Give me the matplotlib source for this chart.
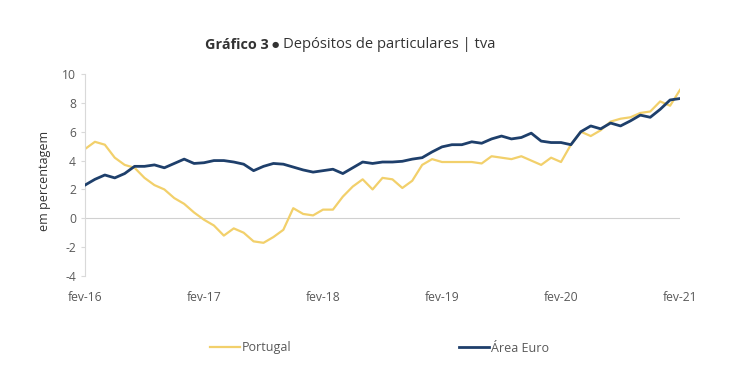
import matplotlib
matplotlib.use("Agg")
import matplotlib.pyplot as plt
from matplotlib.lines import Line2D

plt.rcParams['font.family'] = ['Open Sans', 'DejaVu Sans']
plt.rcParams['axes.unicode_minus'] = False

months = list(range(61))
tick_pos = [0, 12, 24, 36, 48, 60]
tick_labels = ["fev-16", "fev-17", "fev-18", "fev-19", "fev-20", "fev-21"]

portugal = [4.8, 5.3, 5.1, 4.2, 3.7, 3.5, 2.8, 2.3, 2.0, 1.4,
            1.0, 0.4, -0.1, -0.5, -1.2, -0.7, -1.0, -1.6, -1.7, -1.3,
            -0.8, 0.7, 0.3, 0.2, 0.6, 0.6, 1.5, 2.2, 2.7, 2.0,
            2.8, 2.7, 2.1, 2.6, 3.7, 4.1, 3.9, 3.9, 3.9, 3.9,
            3.8, 4.3, 4.2, 4.1, 4.3, 4.0, 3.7, 4.2, 3.9, 5.1,
            6.0, 5.7, 6.1, 6.7, 6.9, 7.0, 7.3, 7.4, 8.1, 7.8,
            8.9]
area_euro = [2.3, 2.7, 3.0, 2.8, 3.1, 3.6, 3.6, 3.7, 3.5, 3.8,
             4.1, 3.8, 3.85, 4.0, 4.0, 3.9, 3.75, 3.3, 3.6, 3.8,
             3.75, 3.55, 3.35, 3.2, 3.3, 3.4, 3.1, 3.5, 3.9, 3.8,
             3.9, 3.9, 3.95, 4.1, 4.2, 4.6, 4.95, 5.1, 5.1, 5.3,
             5.2, 5.5, 5.7, 5.5, 5.6, 5.9, 5.35, 5.25, 5.25, 5.1,
             6.0, 6.4, 6.2, 6.6, 6.4, 6.75, 7.15, 7.0, 7.55, 8.2,
             8.3]

c_pt = "#F2D06B"
c_eu = "#1E3F6B"
grey = "#595959"

fig = plt.figure(figsize=(7.4, 3.89), dpi=100)
ax = fig.add_axes([85/740, 1-276/389, (680-85)/740, (276-74)/389])

ax.axhline(0, color="#d0d0d0", lw=0.8, zorder=1)
ax.plot(months, portugal, color=c_pt, lw=1.6, zorder=2, label="Portugal")
ax.plot(months, area_euro, color=c_eu, lw=2.0, zorder=3, label="Área Euro")

ax.set_xlim(0, 60)
ax.set_ylim(-4, 10)
ax.set_yticks(range(-4, 11, 2))
ax.set_xticks(tick_pos)
ax.set_xticklabels(tick_labels)
for s in ["top", "right", "bottom"]:
    ax.spines[s].set_visible(False)
ax.spines["left"].set_color("#d9d9d9")
ax.spines["left"].set_linewidth(0.8)
ax.tick_params(axis="y", colors="#d9d9d9", labelcolor=grey, labelsize=8.7, length=3, width=0.8)
ax.tick_params(axis="x", length=0, labelcolor=grey, labelsize=8.7, pad=11)
ax.set_ylabel("em percentagem", fontsize=9, color="#333333")
ax.yaxis.set_label_coords(-0.057, 0.47)

ty = 1 - 45/389
fig.text(205/740, ty, "Gráfico 3", ha="left", va="center", fontsize=10.4,
         fontweight="bold", color="#333333")
fig.text(275/740, ty + 0.001, "●", ha="center", va="center", fontsize=6,
         color="#333333", family="DejaVu Sans")
fig.text(283/740, ty, "Depósitos de particulares | tva", ha="left", va="center",
         fontsize=10.6, color="#333333")

h1 = Line2D([], [], color=c_pt, lw=1.6)
h2 = Line2D([], [], color=c_eu, lw=2.0)
fig.legend([h1], ["Portugal"], loc="center left", bbox_to_anchor=(199/740, 1-348/389),
           frameon=False, fontsize=9, handlelength=2.4, handletextpad=0.15,
           labelcolor=grey)
fig.legend([h2], ["Área Euro"], loc="center left", bbox_to_anchor=(448/740, 1-348/389),
           frameon=False, fontsize=9, handlelength=2.4, handletextpad=0.15,
           labelcolor=grey)

fig.savefig("out.png", dpi=100)
